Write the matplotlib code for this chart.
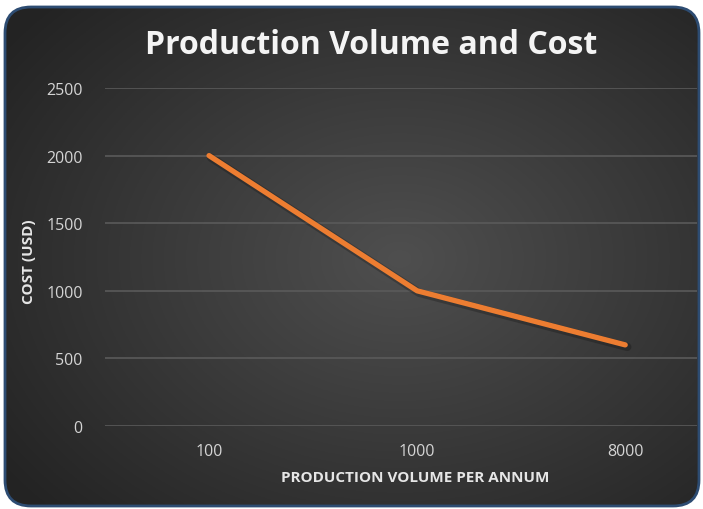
import numpy as np
import matplotlib.pyplot as plt
from matplotlib.patches import FancyBboxPatch

plt.rcParams["font.family"] = ["Open Sans", "DejaVu Sans"]

# chart data
volumes = ["100", "1000", "8000"]
cost = [2000, 1000, 600]
y_ticks = [0, 500, 1000, 1500, 2000, 2500]

fig = plt.figure(figsize=(7.03, 5.10), dpi=100)
fig.patch.set_facecolor("white")

# rounded dark panel with a radial gradient
bg = fig.add_axes([0, 0, 1, 1], zorder=0)
bg.set_xlim(0, 703)
bg.set_ylim(510, 0)
bg.axis("off")
panel = FancyBboxPatch((5, 8), 694, 499, boxstyle="round,pad=0,rounding_size=26",
                       facecolor="none", edgecolor="#2d4c72", linewidth=2.0, zorder=3)
bg.add_patch(panel)
xx, yy = np.meshgrid(np.linspace(0, 703, 400), np.linspace(0, 510, 300))
r = np.sqrt(((xx - 400) / 430) ** 2 + ((yy - 260) / 320) ** 2)
shade = np.clip(0.31 - 0.15 * r, 0.14, 0.31)
img = bg.imshow(np.dstack([shade, shade, shade]), extent=[0, 703, 510, 0], zorder=1)
img.set_clip_path(panel)

ax = fig.add_axes([105 / 703, 1 - 427 / 510, (697 - 105) / 703, (427 - 89) / 510], zorder=2)
ax.patch.set_alpha(0)
x = np.arange(len(volumes))

# soft shadow under the line
ax.plot(x + 0.01, np.array(cost) - 15, color="black", alpha=0.22, linewidth=6,
        solid_capstyle="round", solid_joinstyle="round")
ax.plot(x, cost, color="#ED7D31", linewidth=3.8, solid_capstyle="round",
        solid_joinstyle="round")

ax.set_xlim(-0.5, 2.345)
ax.set_ylim(0, 2500)
ax.set_yticks(y_ticks)
ax.set_xticks(x)
ax.set_xticklabels(volumes)
ax.grid(axis="y", color="#5a5a5a", linewidth=1.2)
ax.set_axisbelow(True)
for s in ax.spines.values():
    s.set_visible(False)
ax.tick_params(length=0, colors="#d4d4d4", labelsize=11.5)
ax.tick_params(axis="y", pad=16)
ax.tick_params(axis="x", pad=12)

fig.text(29 / 703, 1 - 262 / 510, "COST (USD)", rotation=90, color="#e6e6e6",
         fontsize=11, fontweight="bold", ha="center", va="center")
fig.text(415 / 703, 1 - 478 / 510, "PRODUCTION VOLUME PER ANNUM", color="#e6e6e6",
         fontsize=11, fontweight="bold", ha="center", va="center")
fig.text(371 / 703, 1 - 45 / 510, "Production Volume and Cost", color="#f4f4f4",
         fontsize=23, fontweight="bold", ha="center", va="center")

fig.savefig("out.png", dpi=100)
